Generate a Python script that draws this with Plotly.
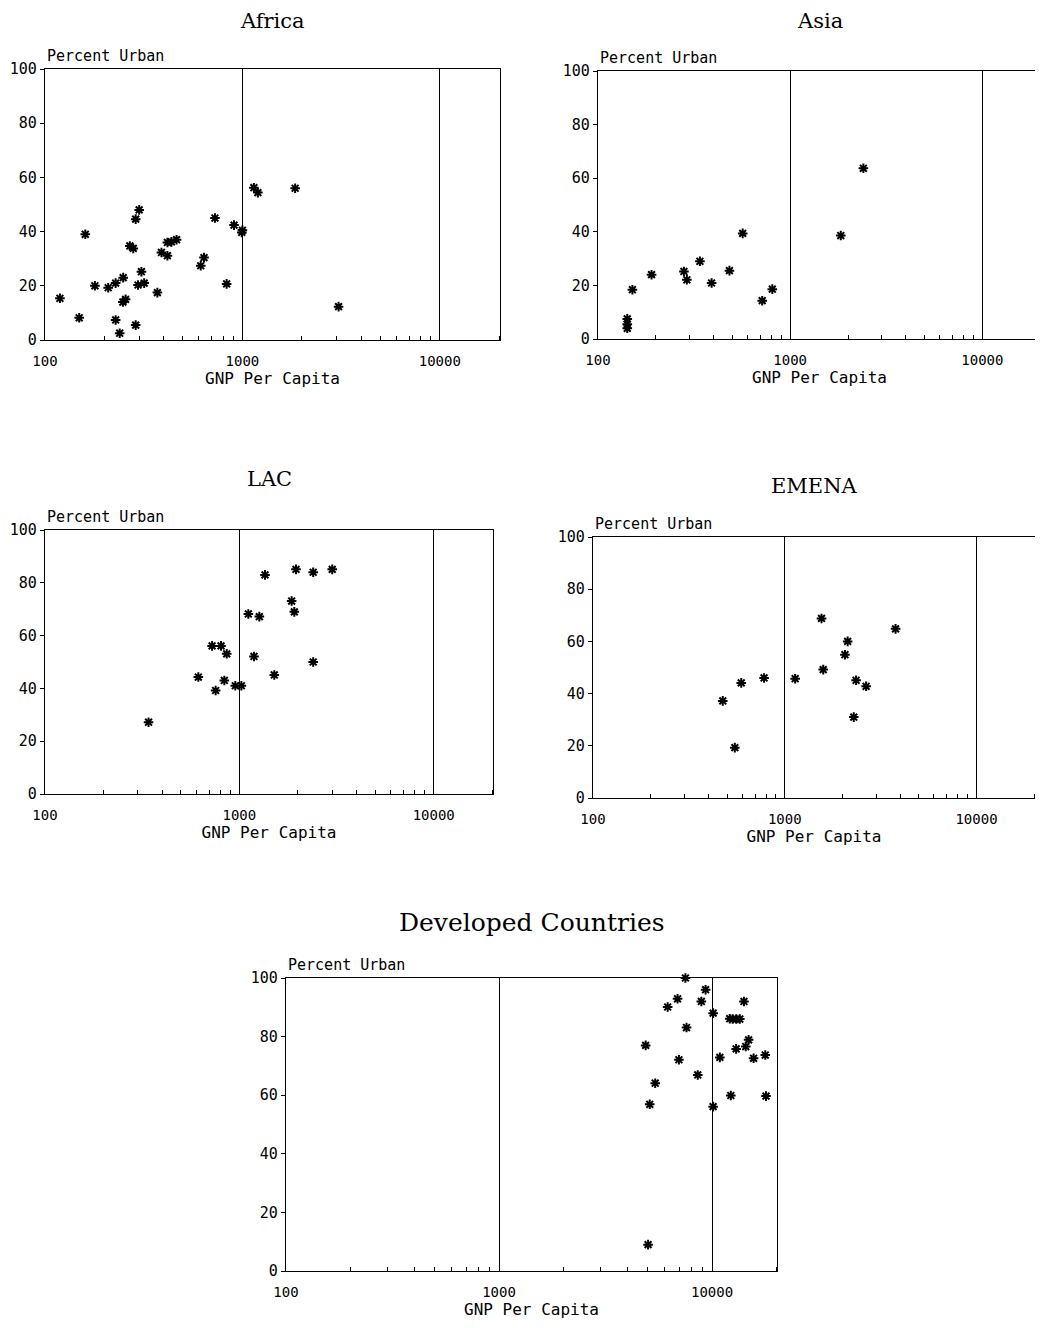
import plotly.graph_objects as go

W, H = 1043, 1328
OFF = 8  # default page margin of the html body

# ---------------- data ----------------
africa_gnp = [119, 149, 160, 179, 209, 228, 249, 228, 239, 248, 256, 269, 280, 288, 300, 288,
              296, 308, 318, 371, 389, 417, 417, 437, 464, 615, 639, 726, 832, 907, 993, 1000,
              1143, 1198, 1850, 3070]
africa_urban = [15.4, 8.2, 39, 20, 19.3, 21, 23, 7.4, 2.5, 14, 15, 34.7, 33.8, 44.6, 48, 5.5,
                20.3, 25.2, 21, 17.5, 32.3, 31.1, 36, 36.2, 37, 27.4, 30.4, 45, 20.7, 42.4, 39.7, 40.5,
                56.2, 54.4, 56, 12.3]

asia_gnp = [142, 142, 142, 151, 190, 280, 290, 339, 390, 483, 566, 715, 807, 1833, 2403]
asia_urban = [7.5, 5.5, 4, 18.4, 24, 25.2, 22.1, 29, 20.9, 25.5, 39.4, 14.3, 18.6, 38.6, 63.7]

lac_gnp = [341, 615, 724, 805, 861, 755, 837, 953, 1024, 1112, 1189, 1267, 1355, 1513, 1858,
           1918, 1956, 2398, 2398, 3005]
lac_urban = [27.2, 44.3, 56.1, 56.1, 53.1, 39.2, 43, 41, 41, 68.2, 52.1, 67.2, 83, 45.1, 73.1,
             69, 85.1, 84, 50, 85.1]

emena_gnp = [475, 549, 593, 780, 1133, 1555, 1587, 2060, 2128, 2290, 2355, 2656, 3783]
emena_urban = [37.2, 19.3, 44.1, 46, 45.7, 68.8, 49.2, 54.9, 60, 31, 45.1, 42.8, 64.8]

dev_gnp = [4880, 5100, 5410, 5010, 6190, 6890, 6990, 7500, 7590, 8570, 8910, 9330, 10120, 10120,
           10880, 12110, 12500, 13000, 13500, 12250, 12980, 14120, 14400, 14850, 15670, 17780, 17920]
dev_urban = [77, 56.9, 64.1, 9, 90.1, 92.9, 72.1, 100, 83.1, 66.9, 92, 96, 88, 56.1,
             72.9, 86.1, 86, 86, 86, 59.9, 75.8, 92, 76.6, 78.9, 72.6, 73.7, 59.7]

x_tickvals = [100, 1000, 10000]
x_ticktext = ["100", "1000", "10000"]
y_tickvals = [0, 20, 40, 60, 80, 100]
y_ticktext = ["0", "20", "40", "60", "80", "100"]
minor_vals = [m * d for d in (100, 1000) for m in range(2, 10)] + [20000]

panels = [
    ("Africa", africa_gnp, africa_urban, (45, 500, 69, 340), 20),
    ("Asia", asia_gnp, asia_urban, (598, 1041, 71, 339), 20),
    ("LAC", lac_gnp, lac_urban, (45, 493, 530, 794), 479),
    ("EMENA", emena_gnp, emena_urban, (593, 1035, 537, 798), 486),
    ("Developed Countries", dev_gnp, dev_urban, (286, 777, 978, 1271), 920),
]

fig = go.Figure()
layout = {}
annotations = []
mono = "DejaVu Sans Mono"
for i, (name, gx, gy, (l, r, t, b), ty) in enumerate(panels):
    l, r, t, b, ty = l - OFF, r - OFF, t - OFF, b - OFF, ty - OFF
    k = "" if i == 0 else str(i + 1)
    fig.add_trace(go.Scatter(
        x=gx, y=gy, mode="markers", xaxis="x" + k, yaxis="y" + k, showlegend=False,
        cliponaxis=False,
        marker=dict(symbol="asterisk-open", size=8, color="black",
                    line=dict(width=2, color="black")),
    ))
    layout["xaxis" + k] = dict(
        type="log", range=[2, 4.305], domain=[l / W, r / W], anchor="y" + k,
        automargin=False,
        tickvals=x_tickvals, ticktext=x_ticktext, ticks="", ticklabelstandoff=8,
        showgrid=True, gridcolor="black", gridwidth=1.3,
        showline=True, linecolor="black", linewidth=1.3, mirror=True, zeroline=False,
        minor=dict(tickvals=minor_vals, ticks="inside", ticklen=4, tickcolor="black", showgrid=False),
        tickfont=dict(family=mono, size=14, color="black"),
        title=dict(text="GNP Per Capita", standoff=2,
                   font=dict(family=mono, size=16, color="black")),
    )
    layout["yaxis" + k] = dict(
        range=[0, 100], domain=[1 - b / H, 1 - t / H], anchor="x" + k,
        automargin=False,
        tickvals=y_tickvals, ticktext=y_ticktext, ticks="outside", ticklen=4,
        tickcolor="black", showgrid=False, zeroline=False,
        showline=True, linecolor="black", linewidth=1.3, mirror=True,
        tickfont=dict(family=mono, size=15, color="black"),
    )
    annotations.append(dict(
        text="Percent Urban", x=l / W, y=1 - t / H, xref="paper", yref="paper",
        xanchor="left", yanchor="bottom", yshift=2, showarrow=False,
        font=dict(family=mono, size=15, color="black"),
    ))
    annotations.append(dict(
        text=name, x=(l + r) / 2 / W, y=min(1.0, 1 - (ty - 13) / H), xref="paper", yref="paper",
        xanchor="center", yanchor="top", showarrow=False, borderpad=0,
        font=dict(family="DejaVu Serif", size=25 if i == 4 else 21, color="black"),
    ))

fig.update_layout(
    width=W, height=H, margin=dict(l=0, r=0, t=0, b=0, autoexpand=False),
    paper_bgcolor="white", plot_bgcolor="white",
    annotations=annotations, **layout,
)
fig.write_html("out.html")
